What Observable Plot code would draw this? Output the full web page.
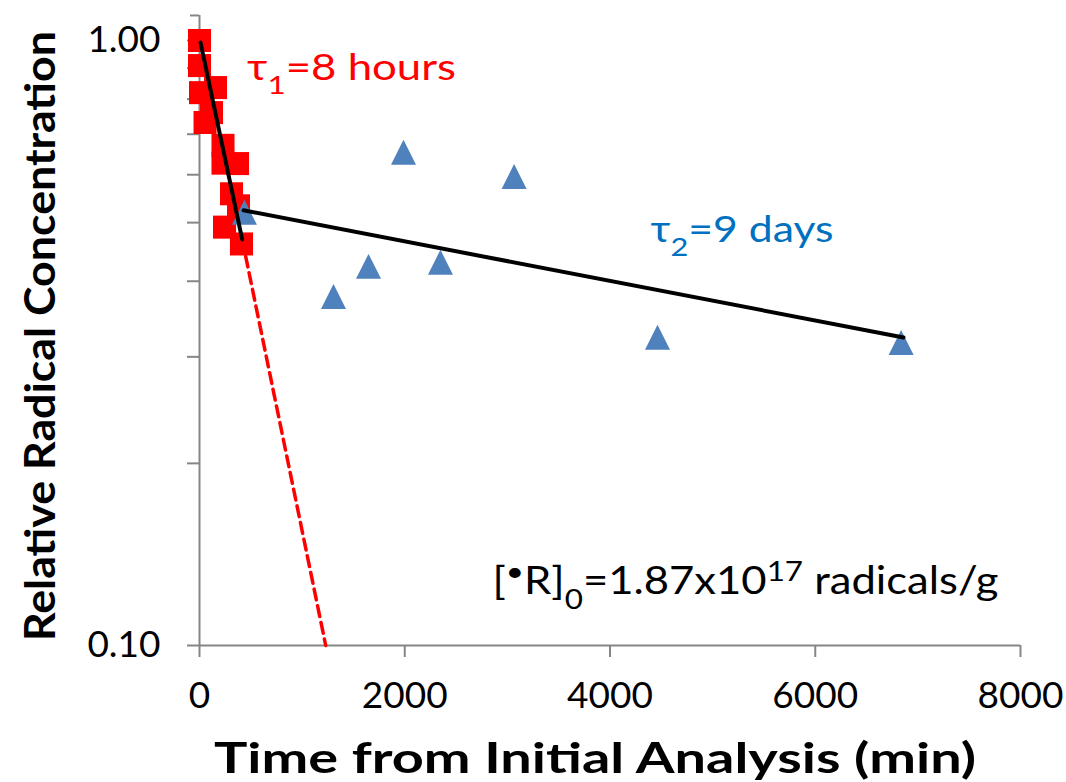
<!DOCTYPE html>
<html><head><meta charset="utf-8">
<script src="https://cdn.jsdelivr.net/npm/d3@7"></script>
<script src="https://cdn.jsdelivr.net/npm/@observablehq/plot@0.6"></script>
<style>
html,body{margin:0;padding:0;background:#fff;}
#chart{width:1066px;height:782px;}
</style></head><body><div id="chart"></div>
<script>
// ---- Data ----
const redTime = [0, 0, 10, 156, 117, 54, 229, 229, 370, 312, 380, 244, 409];
const redConc = [1.00, 0.909, 0.820, 0.836, 0.760, 0.732, 0.671, 0.627, 0.626, 0.558, 0.533, 0.4915, 0.461];
const blueTime = [438, 1306, 1647, 1988, 2348, 3066, 4463, 6837];
const blueConc = [0.520, 0.3775, 0.4233, 0.6535, 0.430, 0.596, 0.3233, 0.3168];
// fitted decay lines (end points)
const fit1Time = [10, 416];
const fit1Conc = [0.992, 0.469];
const dashTime = [416, 1230];
const dashConc = [0.469, 0.1];
const fit2Time = [429, 6860];
const fit2Conc = [0.524, 0.323];
// axes
const xTicks = [0, 2000, 4000, 6000, 8000];
const yTicks = [0.1, 0.2, 0.3, 0.4, 0.5, 0.6, 0.7, 0.8, 0.9, 1.0];
const yTickLabels = {"0.1": "0.10", "1": "1.00"};
const yAxisTop = 1.1;
// texts (markup: _x subscript, ^x superscript)
const xLabel = "Time from Initial Analysis (min)";
const yLabel = "Relative Radical Concentration";
const tau1Text = "τ_1=8 hours";
const tau2Text = "τ_2=9 days";
const r0Text = "[^•R]_0=1.87x10^{17} radicals/g";

const redData = redTime.map((t, i) => ({t, c: redConc[i]}));
const blueData = blueTime.map((t, i) => ({t, c: blueConc[i]}));
const fit1 = fit1Time.map((t, i) => ({t, c: fit1Conc[i]}));
const dash = dashTime.map((t, i) => ({t, c: dashConc[i]}));
const fit2 = fit2Time.map((t, i) => ({t, c: fit2Conc[i]}));

const GRAY = "#868686";
const excelTriangle = {
  draw(ctx, size) {
    const s = Math.sqrt(size) / 2;
    ctx.moveTo(0, -s); ctx.lineTo(s, s); ctx.lineTo(-s, s); ctx.closePath();
  }
};

const svg = Plot.plot({
  width: 1066, height: 782,
  marginLeft: 199, marginRight: 46, marginTop: 40, marginBottom: 137,
  x: {domain: [0, 8000]},
  y: {type: "log", domain: [0.1, 1]},
  style: {fontFamily: "Lato, 'Open Sans', sans-serif", fontSize: "37px", background: "white", color: "black", overflow: "visible"},
  marks: [
    Plot.ruleY([0.1], {stroke: GRAY, strokeWidth: 2}),
    Plot.ruleX([0], {y1: 0.1, y2: yAxisTop, stroke: GRAY, strokeWidth: 2}),
    Plot.ruleY([yAxisTop], {x1: 0, x2: 0, insetLeft: -9, stroke: GRAY, strokeWidth: 2}),
    Plot.axisX({ticks: xTicks, tickSize: 12, tickPadding: 24, fontSize: 37, stroke: GRAY, strokeWidth: 2, fill: "black", tickFormat: d => String(d), label: null}),
    Plot.axisY({ticks: yTicks, tickSize: 12, tickPadding: 27, fontSize: 37, stroke: GRAY, strokeWidth: 2, fill: "black", tickFormat: d => yTickLabels[String(d)] ?? "", label: null}),
    Plot.line(dash, {x: "t", y: "c", stroke: "#FF0000", strokeWidth: 3.5, strokeDasharray: "11,6"}),
    Plot.dot(redData, {x: "t", y: "c", symbol: "square", r: 13, fill: "#FF0000"}),
    Plot.dot(blueData, {x: "t", y: "c", symbol: excelTriangle, r: 14.1, fill: "#4F81BD"}),
    Plot.line(fit1, {x: "t", y: "c", stroke: "black", strokeWidth: 4}),
    Plot.line(fit2, {x: "t", y: "c", stroke: "black", strokeWidth: 4}),
    Plot.text([tau1Text], {x: 463, y: 0.861, text: d => d, textAnchor: "start", lineAnchor: "bottom", fontSize: 36, fill: "#FF0000"}),
    Plot.text([tau2Text], {x: 4395, y: 0.4636, text: d => d, textAnchor: "start", lineAnchor: "bottom", fontSize: 36, fill: "#0070C0"}),
    Plot.text([r0Text], {x: 2855, y: 0.1215, text: d => d, textAnchor: "start", lineAnchor: "bottom", fontSize: 38, fill: "black"}),
    Plot.text([xLabel], {frameAnchor: "bottom", text: d => d, textAnchor: "middle", dx: -15, dy: 127, lineAnchor: "bottom", fontSize: 42, fontWeight: "bold", fill: "black"}),
    Plot.text([yLabel], {frameAnchor: "left", text: d => d, textAnchor: "middle", rotate: -90, dx: -145, dy: -7, lineAnchor: "bottom", fontSize: 42, fontWeight: "bold", fill: "black"})
  ]
});

function richText(raw, fs, targetLen) {
  d3.select(svg).selectAll("text").filter(function () { return this.textContent === raw; }).each(function () {
    const t = d3.select(this);
    t.text("");
    const re = /([_^])(\{[^}]*\}|.)/gu;
    const pieces = [];
    let last = 0, m;
    while ((m = re.exec(raw))) {
      if (m.index > last) pieces.push({s: raw.slice(last, m.index), k: 0});
      let s = m[2]; if (s[0] === "{") s = s.slice(1, -1);
      pieces.push({s, k: m[1] === "_" ? 1 : -1});
      last = re.lastIndex;
    }
    if (last < raw.length) pieces.push({s: raw.slice(last), k: 0});
    let cur = 0;
    for (const p of pieces) {
      const target = p.k === 1 ? 0.38 * fs : p.k === -1 ? -0.36 * fs : 0;
      const ts = t.append("tspan").text(p.s);
      if (target - cur !== 0) ts.attr("dy", target - cur);
      if (p.k !== 0) ts.attr("font-size", 0.72 * fs);
      cur = target;
    }
    if (targetLen) t.attr("textLength", targetLen).attr("lengthAdjust", "spacingAndGlyphs");
  });
}
richText(tau1Text, 36, 209);
richText(tau2Text, 36, 183);
richText(r0Text, 38, 506);
richText(xLabel, 42, 762);
richText(yLabel, 42, 610);

document.getElementById("chart").appendChild(svg);
</script></body></html>
